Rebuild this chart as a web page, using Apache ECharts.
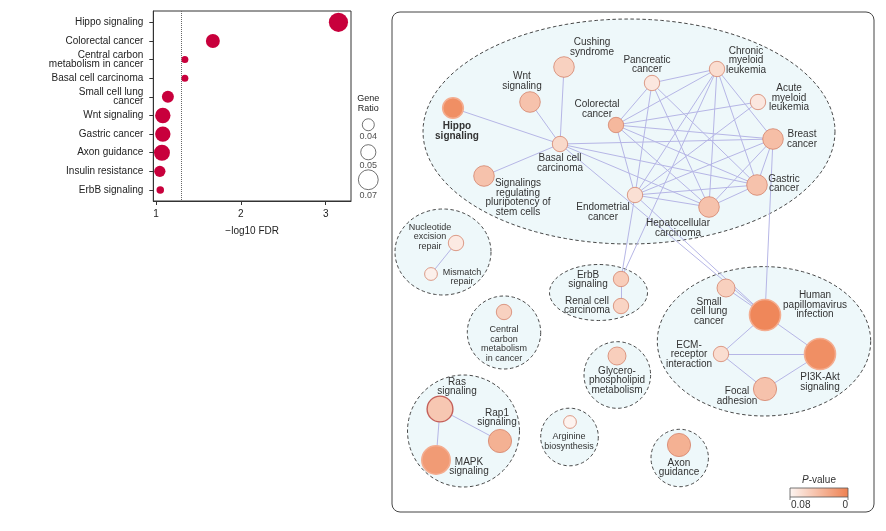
<!DOCTYPE html>
<html><head><meta charset="utf-8">
<script src="https://cdn.jsdelivr.net/npm/echarts@6/dist/echarts.min.js"></script>
<style>html,body{margin:0;padding:0;background:#fff}#c{width:886px;height:531px}</style>
</head><body><div id="c"></div><script>
// ---------- Left panel: enrichment dot plot ----------
const pathways = ['Hippo signaling','Colorectal cancer','Central carbon\nmetabolism in cancer','Basal cell carcinoma','Small cell lung\ncancer','Wnt signaling','Gastric cancer','Axon guidance','Insulin resistance','ErbB signaling'];
const negLog10FDR = [3.15,1.67,1.34,1.34,1.14,1.08,1.08,1.07,1.045,1.05];
const geneRatio = [0.067,0.046,0.028,0.028,0.040,0.051,0.051,0.053,0.038,0.029];
const fdrTicks = [1,2,3];
const fdrThreshold = 1.301;
const ratioLegend = [0.04,0.05,0.07];

// ---------- Right panel: pathway network ----------
const nodeNames = ['Hippo signaling','Wnt signaling','Cushing syndrome','Basal cell carcinoma','Signalings regulating pluripotency of stem cells','Pancreatic cancer','Chronic myeloid leukemia','Acute myeloid leukemia','Colorectal cancer','Breast cancer','Gastric cancer','Endometrial cancer','Hepatocellular carcinoma','Nucleotide excision repair','Mismatch repair','ErbB signaling','Renal cell carcinoma','Central carbon metabolism in cancer','Glycerophospholipid metabolism','Ras signaling','Rap1 signaling','MAPK signaling','Arginine biosynthesis','Axon guidance','Small cell lung cancer','Human papillomavirus infection','ECM-receptor interaction','PI3K-Akt signaling','Focal adhesion'];
const nodeLabels = ['Hippo\nsignaling','Wnt\nsignaling','Cushing\nsyndrome','Basal cell\ncarcinoma','Signalings\nregulating\npluripotency of\nstem cells','Pancreatic\ncancer','Chronic\nmyeloid\nleukemia','Acute\nmyeloid\nleukemia','Colorectal\ncancer','Breast\ncancer','Gastric\ncancer','Endometrial\ncancer','Hepatocellular\ncarcinoma','Nucleotide\nexcision\nrepair','Mismatch\nrepair','ErbB\nsignaling','Renal cell\ncarcinoma','Central\ncarbon\nmetabolism\nin cancer','Glycero-\nphospholipid\nmetabolism','Ras\nsignaling','Rap1\nsignaling','MAPK\nsignaling','Arginine\nbiosynthesis','Axon\nguidance','Small\ncell lung\ncancer','Human\npapillomavirus\ninfection','ECM-\nreceptor\ninteraction','PI3K-Akt\nsignaling','Focal\nadhesion'];
const nodePValue = [0.010,0.045,0.055,0.060,0.045,0.070,0.063,0.070,0.038,0.042,0.045,0.065,0.045,0.072,0.076,0.052,0.057,0.055,0.053,0.048,0.033,0.018,0.078,0.033,0.054,0.005,0.063,0.010,0.045];
const nodeGeneCount = [6,6,6,4,6,4,4,4,4,6,6,4,6,4,3,4,4,4,5,8,7,9,3,7,5,10,4,10,7];
// layout coordinates of the network (layout units)
const layoutX = [61,138,172,168,92,260,325,366,224,381,365,243,317,64,39,229,229,112,225,48,108,44,178,287,334,373,329,428,373];
const layoutY = [96,90,55,132,164,71,57,90,113,127,173,183,195,231,262,267,294,300,344,397,429,448,410,433,276,303,342,342,377];
const edges = [[0,3],[1,3],[2,3],[4,3],[3,9],[3,10],[3,12],[3,25],
  [5,6],[5,8],[5,11],[5,12],[5,10],
  [6,8],[6,11],[6,12],[6,10],[6,9],[6,15],
  [7,8],[7,11],
  [8,9],[8,10],[8,12],[8,11],
  [11,9],[11,10],[11,12],[11,25],[11,15],
  [12,9],[12,10],[9,10],[9,25],
  [13,14],[15,16],[19,20],[19,21],
  [24,25],[25,26],[25,27],[26,27],[26,28],[28,27]];
// clusters: centre x, centre y, radius x, radius y (layout units)
const clusters = [[237,119.5,206,112.5],[51,240,48,43],[206.5,280.5,49,28],[112,320.5,36.7,36.5],[225.3,363,33.3,33.3],[71.5,419,56,56],[177.5,425,28.8,28.8],[287.7,446,28.7,28.7],[372,329.3,106.7,74.7]];
const pLegendTicks = ['0.08','0'];

// ---------- styles ----------
const labelOffset = [[4,23],[-8,-20.7],[28,-19.7],[0,19.3],[34,21.7],[-5,-18.3],[29,-8.4],[31,-4.1],[-19,-16],[29,0],[27,-1.3],[-32,17],[-31,21],[-26,-6.4],[31,3],[-33,0.7],[-34,-0.5],[0,32],[0,24.3],[17,-22.3],[-3,-23.3],[33,6.5],[-1,19.3],[0,22.8],[-17,23.5],[50,-9.8],[-32,0.3],[0,28],[-28,7.2]];
const smallFont = [13,14,17,22];
const FONT = '"Liberation Sans", Arial, Helvetica, sans-serif';
const HIGH = '#ee8050', LOW = '#fdf6f3';
function pColor(p){ return echarts.color.lerp(Math.min(1, p/0.08), [HIGH, LOW]); }
function ratioToSize(r){ return 12 + 14*Math.log(r/0.04); }
function countToSize(c){ return 5 + 2.6*c; }

const chart = echarts.init(document.getElementById('c'));

const graphNodes = nodeNames.map((n,i)=>{
  let border = '#d4846c', bw = 0.8;
  if ([0,21,25,27].includes(i)) { border = '#f4ad90'; bw = 1.6; }
  if (i === 19) { border = '#c4605a'; bw = 1.4; }
  return {
    name: n,
    value: [layoutX[i], layoutY[i]],
    symbolSize: countToSize(nodeGeneCount[i]),
    itemStyle: {color: pColor(nodePValue[i]), borderColor: border, borderWidth: bw},
    label: {
      formatter: nodeLabels[i],
      offset: labelOffset[i],
      fontSize: smallFont.includes(i) ? 9 : 10,
      fontWeight: i === 0 ? 'bold' : 'normal'
    }
  };
});

const option = {
  animation: false,
  textStyle: {fontFamily: FONT},
  grid: [
    {left:153.3, top:11, width:197.7, height:190, show:true, borderColor:'#333', borderWidth:1, backgroundColor:'transparent'},
    {left:392, top:12, width:482, height:500},
    {left:355, top:111, width:26.6, height:82.5}
  ],
  xAxis: [
    {gridIndex:0, type:'value', min:0.968, max:3.298, splitLine:{show:false},
     axisLine:{onZero:false, lineStyle:{color:'#333'}},
     axisTick:{show:true, length:4, customValues:fdrTicks, lineStyle:{color:'#333'}},
     axisLabel:{customValues:fdrTicks, fontSize:10, color:'#222', margin:8, fontFamily:FONT},
     name:'\u2212log10 FDR', nameLocation:'middle', nameGap:25,
     nameTextStyle:{fontSize:10, color:'#222', fontFamily:FONT}},
    {gridIndex:1, type:'value', min:0, max:482, show:false},
    {gridIndex:2, type:'value', min:0, max:1, show:false}
  ],
  yAxis: [
    {gridIndex:0, type:'value', inverse:true, min:-0.607, max:9.59, splitLine:{show:false},
     axisLine:{onZero:false, lineStyle:{color:'#333'}},
     axisTick:{show:true, length:4, customValues:pathways.map((_,i)=>i), lineStyle:{color:'#333'}},
     axisLabel:{customValues:pathways.map((_,i)=>i), formatter:v=>pathways[Math.round(v)],
       fontSize:10, lineHeight:9, margin:10, color:'#222', fontFamily:FONT}},
    {gridIndex:1, type:'value', inverse:true, min:0, max:500, show:false},
    {gridIndex:2, type:'value', inverse:true, min:-0.5, max:2.5, show:false}
  ],
  series: [
    {type:'scatter', xAxisIndex:0, yAxisIndex:0,
     data: pathways.map((p,i)=>[negLog10FDR[i], i, geneRatio[i]]),
     symbolSize: d=>ratioToSize(d[2]),
     itemStyle:{color:'#c8003c', opacity:1},
     z:3,
     markLine:{silent:true, symbol:['none','none'], label:{show:false},
       lineStyle:{type:'dotted', color:'#666', width:1},
       data:[{xAxis: fdrThreshold}]}},
    {type:'scatter', xAxisIndex:2, yAxisIndex:2,
     data: ratioLegend.map((r,i)=>[0.5, i, r]),
     symbolSize: d=>ratioToSize(d[2]),
     itemStyle:{color:'#fff', borderColor:'#222', borderWidth:0.8},
     label:{show:true, position:'bottom', distance:1, formatter:p=>p.value[2].toFixed(2),
       fontSize:9, color:'#222', fontFamily:FONT}},
    {type:'custom', xAxisIndex:1, yAxisIndex:1, z:1, silent:true,
     data: clusters,
     encode:{x:0, y:1},
     renderItem:(params, api)=>{
       const c = api.coord([api.value(0), api.value(1)]);
       const s = api.size([api.value(2), api.value(3)]);
       const rx = Math.abs(s[0]), ry = Math.abs(s[1]);
       const pts = [];
       for (let k=0;k<120;k++){ const a=k/120*2*Math.PI; pts.push([c[0]+rx*Math.cos(a), c[1]+ry*Math.sin(a)]); }
       return {type:'polygon', shape:{points:pts}, style:{fill:'#eef8fa', stroke:'#333', lineWidth:0.9, lineDash:[3.5,2.5]}};
     }},
    {type:'graph', coordinateSystem:'cartesian2d', xAxisIndex:1, yAxisIndex:1, z:3,
     symbol:'circle', roam:false,
     data: graphNodes,
     links: edges.map(e=>({source:e[0], target:e[1]})),
     lineStyle:{color:'#b6b6e6', width:1, opacity:1, curveness:0},
     label:{show:true, position:'inside', align:'center', verticalAlign:'middle',
       color:'#333', fontSize:10, lineHeight:9.5, fontFamily:FONT},
     emphasis:{disabled:true}}
  ],
  graphic: [
    {type:'rect', shape:{x:392, y:12, width:482, height:500, r:8}, style:{fill:'none', stroke:'#444', lineWidth:1}, z:10, silent:true},
    {type:'text', x:368.3, y:104, style:{text:'Gene\nRatio', fontSize:9, lineHeight:10, fill:'#222', align:'center', verticalAlign:'middle', fontFamily:FONT}},
    {type:'text', x:819, y:480.5, style:{text:'{i|P}-value', rich:{i:{fontStyle:'italic', fontSize:10, fill:'#333', fontFamily:FONT}}, fontSize:10, fill:'#333', align:'center', verticalAlign:'middle', fontFamily:FONT}},
    {type:'rect', shape:{x:790, y:488, width:58, height:9},
     style:{fill:new echarts.graphic.LinearGradient(0,0,1,0,[{offset:0,color:LOW},{offset:1,color:HIGH}]), stroke:'#555', lineWidth:0.8}},
    {type:'line', shape:{x1:790, y1:497, x2:790, y2:500}, style:{stroke:'#555', lineWidth:0.8}},
    {type:'line', shape:{x1:848, y1:497, x2:848, y2:500}, style:{stroke:'#555', lineWidth:0.8}},
    {type:'text', x:791, y:505, style:{text:pLegendTicks[0], fontSize:10, fill:'#333', align:'left', verticalAlign:'middle', fontFamily:FONT}},
    {type:'text', x:848, y:505, style:{text:pLegendTicks[1], fontSize:10, fill:'#333', align:'right', verticalAlign:'middle', fontFamily:FONT}}
  ]
};
chart.setOption(option);
</script></body></html>
